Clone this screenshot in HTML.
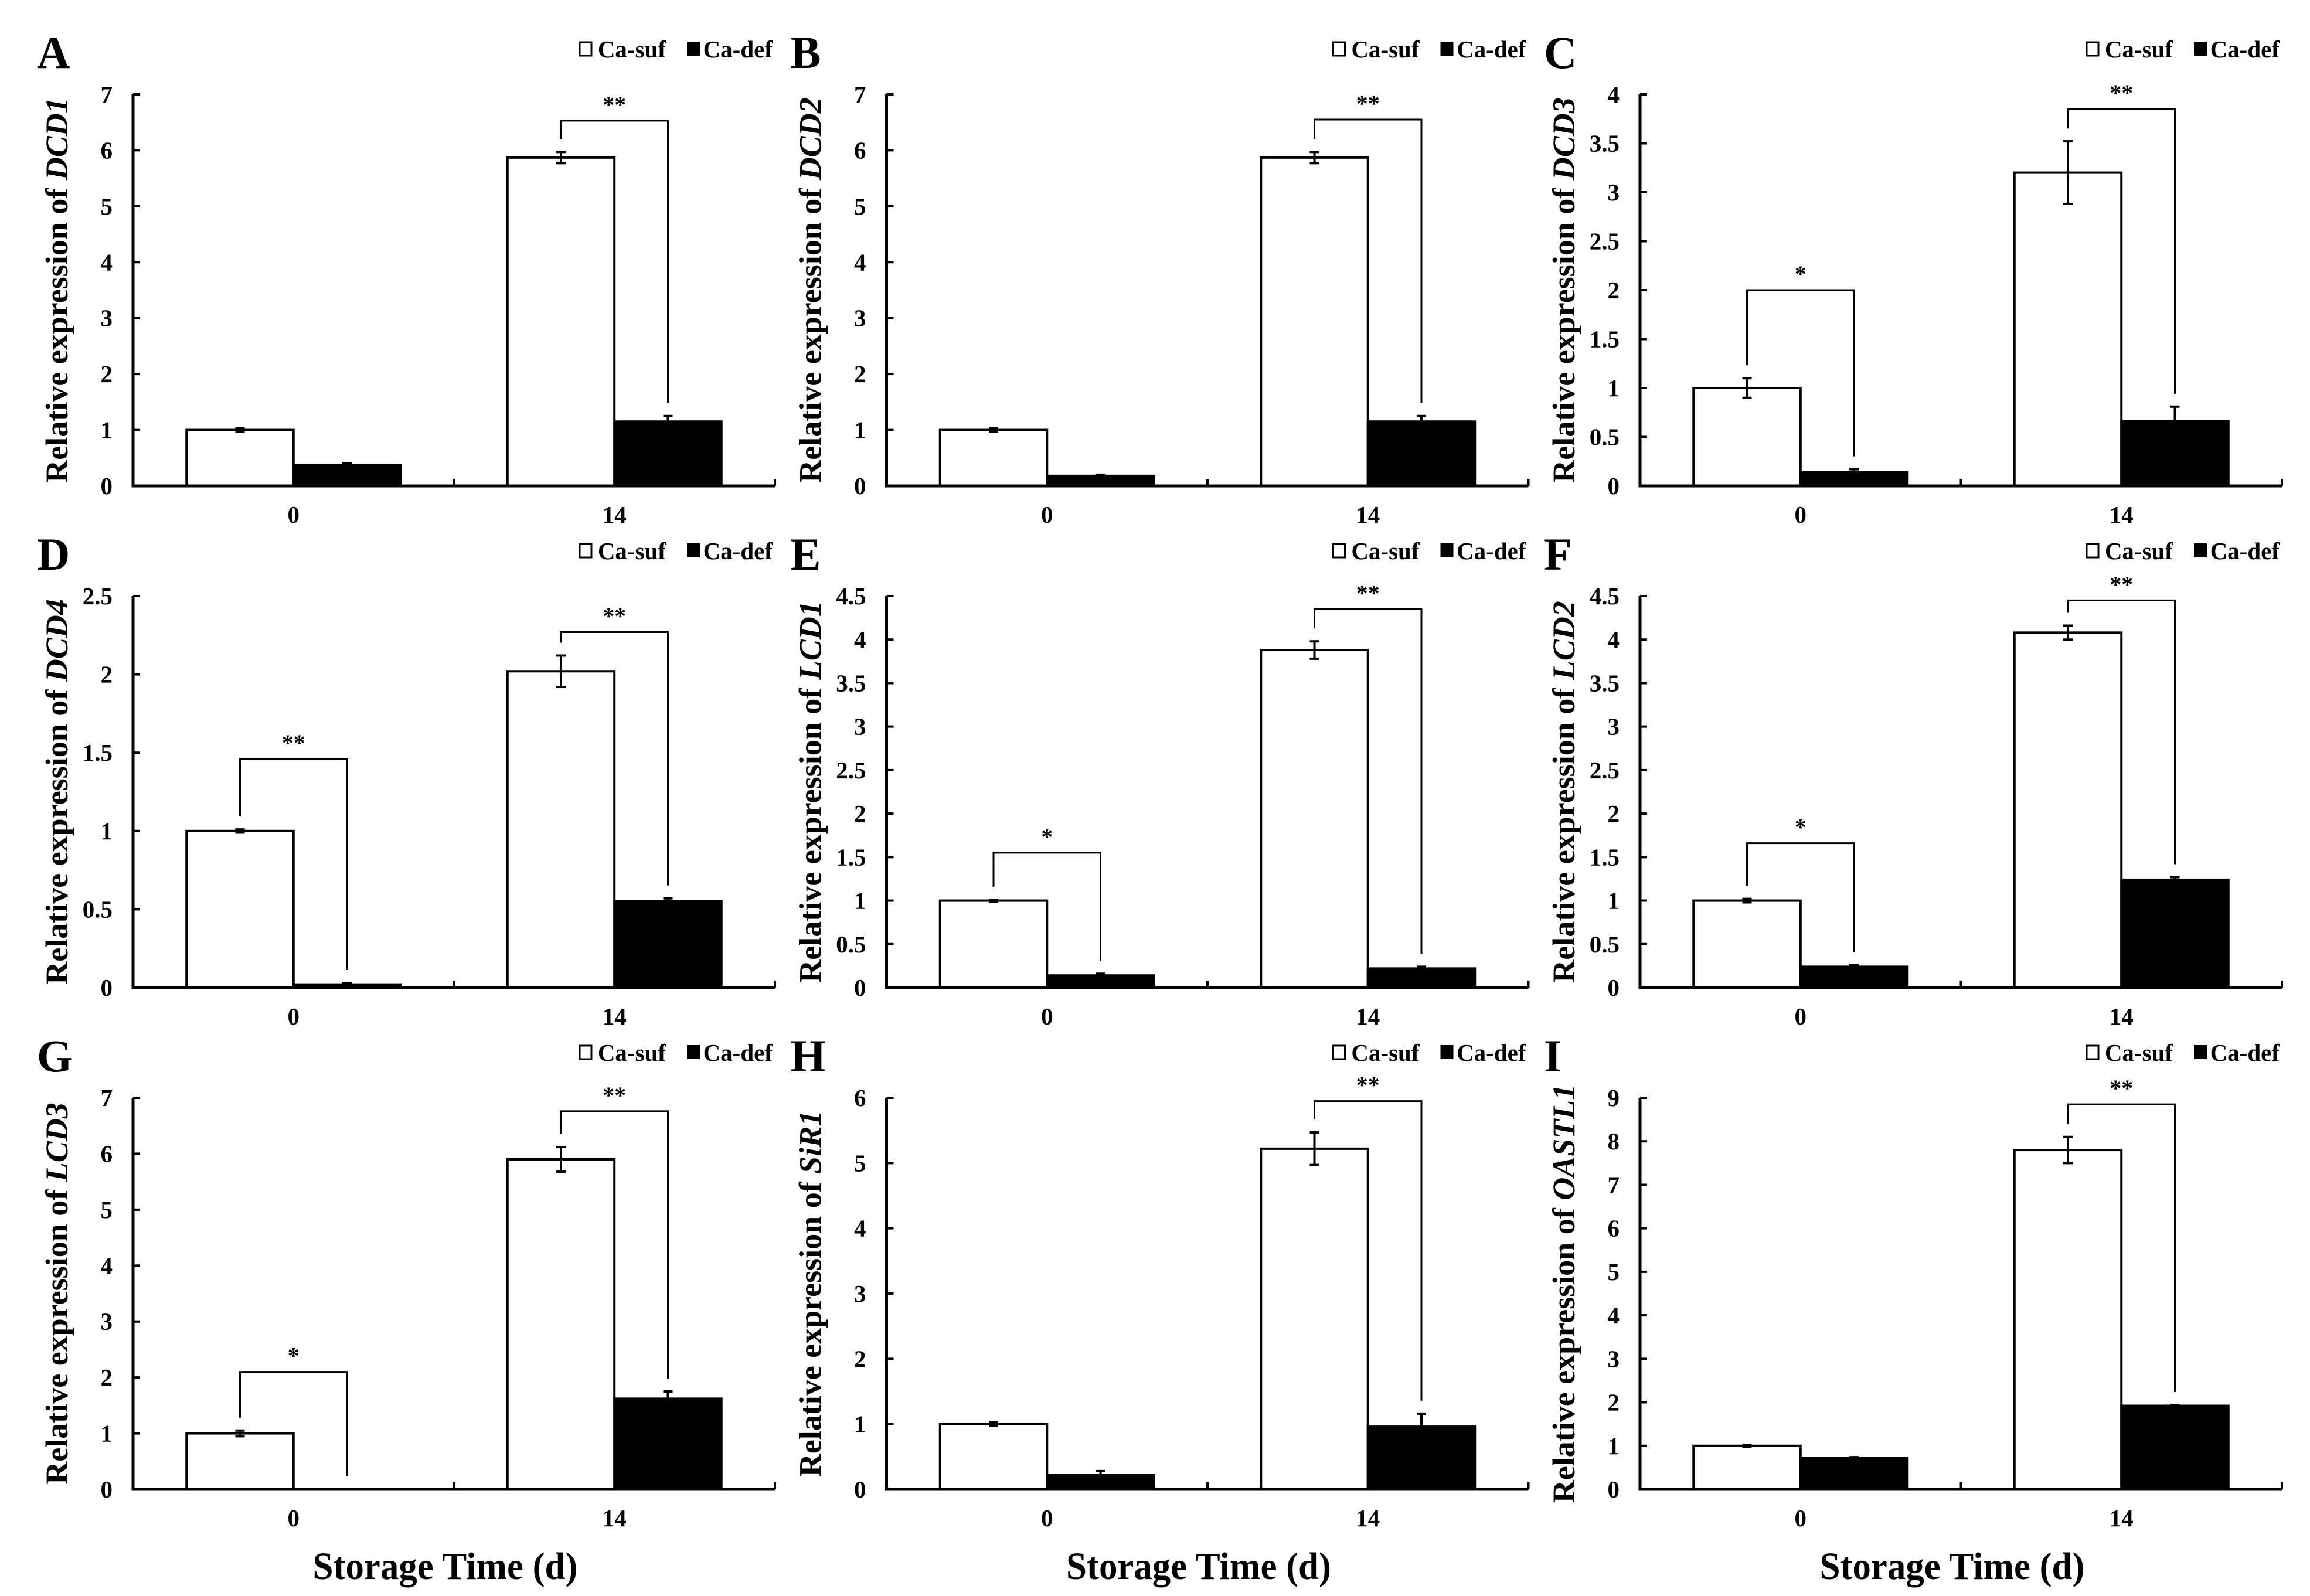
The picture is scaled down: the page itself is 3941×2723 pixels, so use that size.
<!DOCTYPE html>
<html><head><meta charset="utf-8"><style>
html,body{margin:0;padding:0;background:#fff}
svg{display:block}
text{font-family:"Liberation Serif","Times New Roman",serif;font-weight:bold;fill:#000}
</style></head><body>
<svg id="fig" width="3941" height="2723" viewBox="0 0 3941 2723" xmlns="http://www.w3.org/2000/svg"></svg>
<script>
const panelLetters = ["A","B","C","D","E","F","G","H","I"];
const genes = ["DCD1","DCD2","DCD3","DCD4","LCD1","LCD2","LCD3","SiR1","OASTL1"];
const yMax = [7,7,4,2.5,4.5,4.5,7,6,9];
const yStep = [1,1,0.5,0.5,0.5,0.5,1,1,1];
const categories = ["0","14"];
const sufValues = [[1.0,5.87],[1.0,5.87],[1.0,3.2],[1.0,2.02],[1.0,3.88],[1.0,4.08],[1.0,5.9],[1.0,5.22],[1.0,7.8]];
const sufErrors = [[0.03,0.1],[0.03,0.1],[0.1,0.32],[0.01,0.1],[0.01,0.1],[0.02,0.08],[0.05,0.22],[0.03,0.25],[0.02,0.3]];
const defValues = [[0.37,1.15],[0.18,1.15],[0.14,0.66],[0.02,0.55],[0.14,0.22],[0.24,1.24],[0.0,1.62],[0.22,0.96],[0.72,1.92]];
const defErrors = [[0.03,0.1],[0.02,0.1],[0.03,0.15],[0.01,0.02],[0.02,0.02],[0.02,0.03],[0.0,0.13],[0.06,0.2],[0.02,0.02]];
const sigLabels = [["","**"],["","**"],["*","**"],["**","**"],["*","**"],["*","**"],["*","**"],["","**"],["","**"]];
const sigHeights = [[0,6.53],[0,6.55],[2.0,3.85],[1.46,2.27],[1.55,4.35],[1.66,4.45],[2.1,6.76],[0,5.95],[0,8.85]];

const svg = document.getElementById('fig');
const NS = "http://www.w3.org/2000/svg";
function mk(tag, attrs, parent){const e=document.createElementNS(NS,tag);for(const k in attrs)e.setAttribute(k,attrs[k]);(parent||svg).appendChild(e);return e;}
function fmt(v){return (Math.round(v*10)/10).toString();}

const COLW=1285.5, ROWH=856, AX0=227, AXW=1095, Y0=829, AXH=668;

for(let p=0;p<9;p++){
  const col=p%3,row=Math.floor(p/3);
  const ox=AX0+col*COLW, oy=Y0+row*ROWH, top=oy-AXH, xEnd=ox+AXW;
  const g=mk('g',{});
  
  
  const yS=v=>oy-v/yMax[p]*AXH;
  const catW=AXW/categories.length, barW=catW/3;
  const xS=i=>ox+catW*(i+0.5);

  const lt=mk('text',{x:ox-164,y:top-45,'font-size':78},g);lt.textContent=panelLetters[p];
  
  

  const lg=mk('g',{},g);
  
  
  const lb=top-63;
  const b1=mk('rect',{x:xEnd-333,y:lb-26,width:20,height:23,fill:'#fff',stroke:'#000','stroke-width':3},lg);
  
  
  const t1=mk('text',{x:xEnd-186,y:lb,'font-size':41,'text-anchor':'end'},lg);t1.textContent='Ca-suf';
  
  
  const b2=mk('rect',{x:xEnd-150,y:lb-27,width:22,height:24,fill:'#000'},lg);
  
  
  const t2=mk('text',{x:xEnd-4,y:lb,'font-size':41,'text-anchor':'end'},lg);t2.textContent='Ca-def';
  
  

  for(let i=0;i<categories.length;i++){
    const cx=xS(i);
    const series=[[sufValues[p][i],sufErrors[p][i],'#fff',cx-barW,'ca-suf'],[defValues[p][i],defErrors[p][i],'#000',cx,'ca-def']];
    series.forEach(s=>{
      const [v,e,fill,x,nm]=s;
      if(v>0){
        const r=mk('rect',{x:x,y:yS(v),width:barW,height:oy-yS(v),fill:fill,stroke:'#000','stroke-width':4},g);
        
        
      }
      if(e>0){
        const bx=x+barW/2;
        const eb=mk('path',{d:`M${bx},${yS(v-e)}V${yS(v+e)}M${bx-8},${yS(v-e)}H${bx+8}M${bx-8},${yS(v+e)}H${bx+8}`,stroke:'#000','stroke-width':4,fill:'none'},g);
        
        
      }
    });
    if(sigLabels[p][i]){
      const xl=cx-barW/2, xr=cx+barW/2, yb=yS(sigHeights[p][i]);
      const yl=yS(sufValues[p][i]+sufErrors[p][i])-22, yr=yS(defValues[p][i]+defErrors[p][i])-22;
      const br=mk('path',{d:`M${xl},${yl}V${yb}H${xr}V${yr}`,stroke:'#000','stroke-width':3,fill:'none'},g);
      
      
      const st=mk('text',{x:cx,y:yb-14,'font-size':40,'font-weight':'normal','text-anchor':'middle'},g);st.textContent=sigLabels[p][i];
      
      
    }
    const cl=mk('text',{x:cx,y:oy+63,'font-size':41,'text-anchor':'middle'},g);cl.textContent=categories[i];
    
    
  }

  const ax=mk('path',{d:`M${ox},${top}V${oy}H${xEnd}`,stroke:'#000','stroke-width':5,fill:'none'},g);
  
  
  let td='';
  const n=Math.round(yMax[p]/yStep[p]);
  for(let k=0;k<=n;k++){
    const v=k*yStep[p],y=yS(v);
    td+=`M${ox},${y}H${ox+12}`;
    const tl=mk('text',{x:ox-35,y:y+14,'font-size':41,'text-anchor':'end'},g);tl.textContent=fmt(v);
    
    
  }
  for(let i=0;i<=categories.length;i++){const x=ox+catW*i;td+=`M${x},${oy}V${oy-12}`;}
  const tk=mk('path',{d:td,stroke:'#000','stroke-width':4,fill:'none'},g);
  
  

  const yt=mk('text',{transform:`translate(${ox-112},${(top+oy)/2}) rotate(-90)`,'font-size':54,'text-anchor':'middle'},g);
  
  
  yt.appendChild(document.createTextNode('Relative expression of '));
  const it=mk('tspan',{'font-style':'italic'},yt);it.textContent=genes[p];

  if(row===2){
    const xt=mk('text',{x:ox+AXW/2-15,y:2694,'font-size':66,'text-anchor':'middle',textLength:452,lengthAdjust:'spacingAndGlyphs'},g);
    xt.textContent='Storage Time (d)';
    
    
  }
}
</script>
</body></html>
